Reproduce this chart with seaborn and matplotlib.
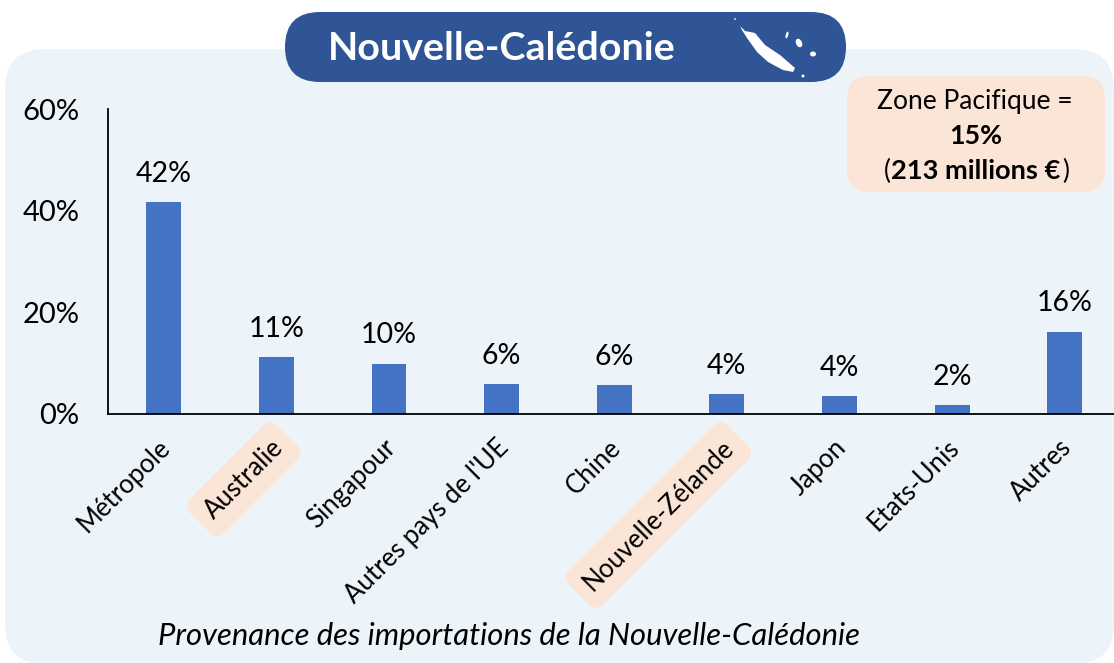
import matplotlib
matplotlib.use('Agg')
import matplotlib.pyplot as plt
import seaborn as sns
from matplotlib.patches import FancyBboxPatch, Polygon, Ellipse
from matplotlib.transforms import ScaledTranslation

# ======================================
# Data
# ======================================

categories = ['Métropole', 'Australie', 'Singapour', "Autres pays de l'UE", 'Chine',
              'Nouvelle-Zélande', 'Japon', 'Etats-Unis', 'Autres']
values = [41.7, 11.2, 9.9, 5.9, 5.7, 3.9, 3.5, 1.7, 16.2]
value_labels = ['42%', '11%', '10%', '6%', '6%', '4%', '4%', '2%', '16%']
y_ticks = [0, 20, 40, 60]
highlighted = ['Australie', 'Nouvelle-Zélande']

W, H = 1114, 663
PANEL = '#ECF4FA'
PEACH = '#FBE5D6'
NAVY = '#2F5597'
BAR = '#4472C4'

sns.set_theme(style='white')
plt.rcParams['font.family'] = ['Lato', 'DejaVu Sans']

fig = plt.figure(figsize=(W / 100, H / 100), dpi=100, facecolor='white')

# ======================================
# Background shapes (pixel coordinates)
# ======================================

bg = fig.add_axes([0, 0, 1, 1], zorder=0)
bg.set_xlim(0, W)
bg.set_ylim(H, 0)
bg.axis('off')


def rounded(ax, x0, y0, x1, y1, r, color, z=1):
    ax.add_patch(FancyBboxPatch((x0 + r, y0 + r), x1 - x0 - 2 * r, y1 - y0 - 2 * r,
                                boxstyle=f'round,pad={r},rounding_size={r}',
                                fc=color, ec='none', zorder=z))


rounded(bg, 5, 49, 1114, 664, 40, PANEL)
rounded(bg, 285, 12, 846, 82, 35, NAVY, z=2)

bg.text(502, 48, 'Nouvelle-Calédonie', color='white', fontsize=28.4, fontweight='bold',
        ha='center', va='center', zorder=3)

# small map of the islands
main_island = [(740, 26), (745, 31), (755, 33), (765, 45), (780, 55), (795, 68),
               (793, 72), (783, 70), (768, 62), (757, 52), (747, 38), (742, 30)]
bg.add_patch(Polygon(main_island, fc='white', ec='none', zorder=3))
bg.add_patch(Ellipse((787, 35), 2.5, 7, angle=15, fc='white', ec='none', zorder=3))
bg.add_patch(Ellipse((799, 43), 6, 9, angle=-25, fc='white', ec='none', zorder=3))
bg.add_patch(Ellipse((813, 54), 6, 5, fc='white', ec='none', zorder=3))
bg.add_patch(Ellipse((803, 76), 3, 3, fc='white', ec='none', zorder=3))
bg.add_patch(Ellipse((735, 19), 2, 2, fc='#C8D4E8', ec='none', zorder=3))

# Zone Pacifique box
rounded(bg, 847, 76, 1105, 192, 22, PEACH, z=4)
bg.text(975, 101, 'Zone Pacifique =', fontsize=19, ha='center', va='center', color='black', zorder=5)
bg.text(976, 136, '15%', fontsize=19.3, fontweight='bold', ha='center', va='center', color='black', zorder=5)
bg.text(884, 171, '(', fontsize=19, ha='left', va='center', color='black', zorder=5)
bg.text(976, 171, '213 millions €', fontsize=19.6, fontweight='bold', ha='center', va='center',
        color='black', zorder=5)
bg.text(1069, 171, ')', fontsize=19, ha='right', va='center', color='black', zorder=5)

bg.text(509, 636, 'Provenance des importations de la Nouvelle-Calédonie', fontsize=22.3,
        fontstyle='italic', ha='center', va='center', color='black', zorder=5)

# ======================================
# Bar chart
# ======================================

left, right, top, bottom = 107.5, 1121, 109, 414
ax = fig.add_axes([left / W, 1 - bottom / H, (right - left) / W, (bottom - top) / H], zorder=1)
ax.patch.set_alpha(0)

sns.barplot(x=categories, y=values, color=BAR, saturation=1, width=0.31, linewidth=0, ax=ax)

ax.set_xlim(-0.5, 8.5)
ax.set_ylim(0, 60)
ax.set_yticks(y_ticks)
ax.set_yticklabels([f'{v}%' for v in y_ticks], fontsize=21, color='black')
ax.tick_params(axis='y', length=0, pad=20)
ax.tick_params(axis='x', length=0, pad=15)
ax.set_xticks(range(len(categories)))
ax.set_xticklabels(categories, rotation=45, ha='right', va='top', rotation_mode='anchor',
                   fontsize=18.5, color='black')

# nudge the rotated labels to the left
shift = ScaledTranslation(-6 / 100, 0, fig.dpi_scale_trans)
for lab in ax.get_xticklabels():
    lab.set_transform(lab.get_transform() + shift)
    if lab.get_text() in highlighted:
        lab.set_bbox(dict(boxstyle='round,pad=0.45,rounding_size=0.4', fc=PEACH, ec='none'))

ax.bar_label(ax.containers[0], labels=value_labels, padding=11, fontsize=20.5, color='black')

sns.despine(ax=ax)
ax.spines['left'].set_color('black')
ax.spines['bottom'].set_color('black')
ax.spines['left'].set_linewidth(1.3)
ax.spines['bottom'].set_linewidth(1.3)

fig.savefig('out.png', dpi=100, facecolor='white')
